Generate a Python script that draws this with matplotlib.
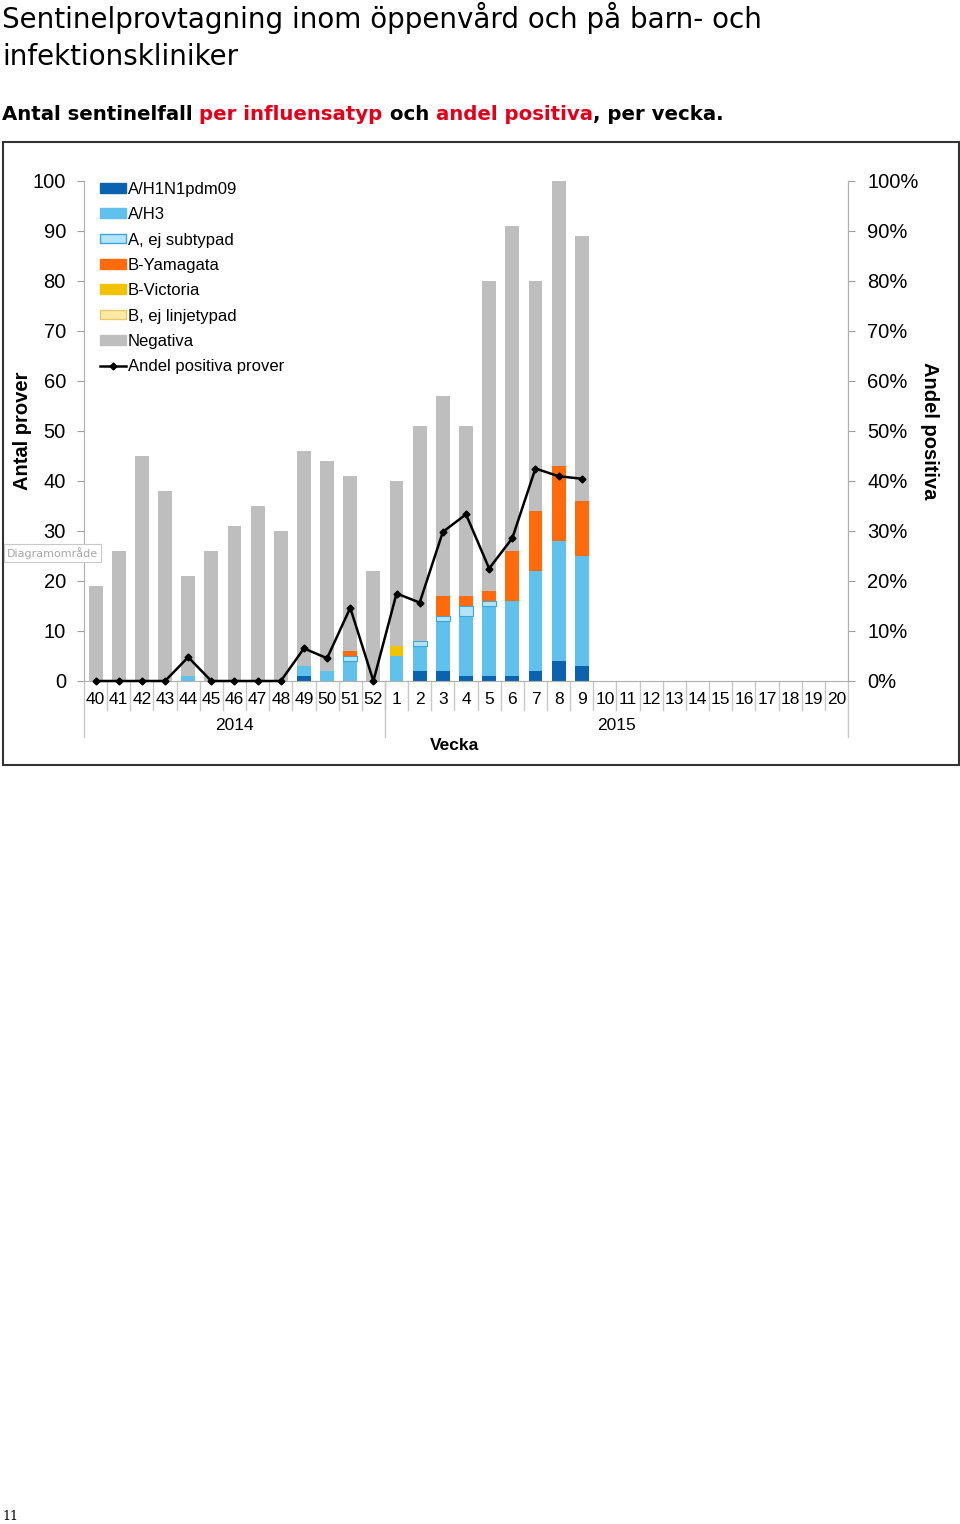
import matplotlib
matplotlib.use("Agg")
import matplotlib.pyplot as plt
from matplotlib.patches import Rectangle, Patch
from matplotlib.lines import Line2D
import matplotlib.transforms as mtrans
import numpy as np

plt.rcParams['font.family'] = ['Liberation Sans', 'DejaVu Sans']

# week labels, 2014 w40 .. 2015 w20
weeks = ['40', '41', '42', '43', '44', '45', '46', '47', '48', '49', '50', '51', '52',
         '1', '2', '3', '4', '5', '6', '7', '8', '9', '10', '11', '12', '13', '14',
         '15', '16', '17', '18', '19', '20']
years = ['2014', '2015']
n_2014 = 13

# counts per week (only weeks 40..9 reported)
h1n1 = [0, 0, 0, 0, 0, 0, 0, 0, 0, 1, 0, 0, 0, 0, 2, 2, 1, 1, 1, 2, 4, 3]
h3 = [0, 0, 0, 0, 1, 0, 0, 0, 0, 2, 2, 4, 0, 5, 5, 10, 12, 14, 15, 20, 24, 22]
a_ej = [0, 0, 0, 0, 0, 0, 0, 0, 0, 0, 0, 1, 0, 0, 1, 1, 2, 1, 0, 0, 0, 0]
b_yam = [0, 0, 0, 0, 0, 0, 0, 0, 0, 0, 0, 1, 0, 0, 0, 4, 2, 2, 10, 12, 15, 11]
b_vic = [0, 0, 0, 0, 0, 0, 0, 0, 0, 0, 0, 0, 0, 2, 0, 0, 0, 0, 0, 0, 0, 0]
b_ej = [0, 0, 0, 0, 0, 0, 0, 0, 0, 0, 0, 0, 0, 0, 0, 0, 0, 0, 0, 0, 0, 0]
totals = [19, 26, 45, 38, 21, 26, 31, 35, 30, 46, 44, 41, 22, 40, 51, 57, 51, 80, 91, 80, 105, 89]

series = [h1n1, h3, a_ej, b_yam, b_vic, b_ej]
labels = ['A/H1N1pdm09', 'A/H3', 'A, ej subtypad', 'B-Yamagata', 'B-Victoria',
          'B, ej linjetypad', 'Negativa']
colors = ['#0B62AE', '#5FC1EC', '#B6E4F7', '#FF6A0D', '#F2C300', '#FDE9A6', '#BEBEBE']
edges = [None, None, '#3AA6DA', None, None, '#E8C96A', None]

positives = np.sum(series, axis=0)
negativa = np.array(totals) - positives
share = positives / np.array(totals) * 100

fig = plt.figure(figsize=(9.6, 15.24), dpi=100)
W, H = 960, 1524

# page title / subtitle
fig.text(2 / W, 1 - 18 / H, 'Sentinelprovtagning inom öppenvård och på barn- och',
         fontsize=20, family='DejaVu Sans', va='center', ha='left')
fig.text(2 / W, 1 - 57 / H, 'infektionskliniker',
         fontsize=20, family='DejaVu Sans', va='center', ha='left')
parts = [('Antal sentinelfall ', 'black'), ('per influensatyp', '#E3001B'), (' och ', 'black'),
         ('andel positiva', '#E3001B'), (', per vecka.', 'black')]
renderer = fig.canvas.get_renderer()
x0 = 2 / W
for txt, col in parts:
    tt = fig.text(x0, 1 - 114 / H, txt, fontsize=14.2, family='DejaVu Sans', weight='bold',
                  va='center', ha='left', color=col)
    bb = tt.get_window_extent(renderer=renderer)
    x0 += bb.width / W

# chart frame
fig.patches.append(Rectangle((3 / W, 1 - 765 / H), 956 / W, 623 / H, transform=fig.transFigure,
                             fill=False, edgecolor='#333333', linewidth=1.5))

ax = fig.add_axes([84 / W, 1 - 681 / H, 764 / W, 500 / H])
x = np.arange(len(totals))
bottom = np.zeros(len(totals))
for vals, col, ec in zip(series + [negativa], colors, edges + [None]):
    lws = [0.8 if (ec and v > 0) else 0 for v in vals]
    ax.bar(x, vals, 0.6, bottom=bottom, color=col,
           edgecolor=ec if ec else col, linewidth=lws, zorder=2)
    bottom += np.array(vals)

ax.set_xlim(-0.5, len(weeks) - 0.5)
ax.set_ylim(0, 100)
ax.set_yticks(range(0, 101, 10))
ax.tick_params(axis='y', length=5, color='#A0A0A0', labelsize=14.5, pad=8)
ax.set_xticks([])
ax.spines['top'].set_visible(False)
for s in ['left', 'right', 'bottom']:
    ax.spines[s].set_color('#B0B0B0')
ax.set_ylabel('Antal prover', fontsize=14.5, weight='bold', va='center')
ax.yaxis.set_label_coords(-0.081, 0.5)

ax2 = ax.twinx()
ax2.set_ylim(0, 100)
ax2.plot(x, share, color='black', lw=1.8, marker='D', ms=3.5, zorder=5, clip_on=False)
ax2.set_yticks(range(0, 101, 10))
ax2.set_yticklabels([f'{v}%' for v in range(0, 101, 10)])
ax2.tick_params(axis='y', length=5, color='#A0A0A0', labelsize=14.5, pad=9)
for s in ['top', 'left', 'bottom']:
    ax2.spines[s].set_visible(False)
ax2.spines['right'].set_color('#B0B0B0')
ax2.set_ylabel('Andel positiva', fontsize=14.5, weight='bold', rotation=-90, va='center')
ax2.yaxis.set_label_coords(1.107, 0.5)

# multi-level category axis
trans = mtrans.blended_transform_factory(ax.transData, ax.transAxes)
px = 1 / 500
for i, wk in enumerate(weeks):
    ax.text(i, -19 * px, wk, transform=trans, ha='center', va='center', fontsize=12.5)
for i in range(1, len(weeks)):
    ax.plot([i - 0.5, i - 0.5], [0, -29 * px], transform=trans, color='#C8C8C8', lw=1, clip_on=False)
for b in [-0.5, n_2014 - 0.5, len(weeks) - 0.5]:
    ax.plot([b, b], [0, -56 * px], transform=trans, color='#C8C8C8', lw=1, clip_on=False)
ax.text((n_2014 - 1) / 2, -45 * px, years[0], transform=trans, ha='center', va='center', fontsize=12.5)
ax.text((n_2014 + len(weeks) - 1) / 2, -45 * px, years[1], transform=trans, ha='center', va='center',
        fontsize=12.5)
ax.text((len(weeks) - 1) / 2 - 0.5, -65 * px, 'Vecka', transform=trans, ha='center', va='center',
        fontsize=12.5, weight='bold')

# legend
handles = [Patch(facecolor=c, edgecolor=e if e else c) for c, e in zip(colors, edges + [None])]
handles.append(Line2D([], [], color='black', lw=1.8, marker='D', ms=3.5))
leg = ax.legend(handles, labels + ['Andel positiva prover'], loc='upper left',
                bbox_to_anchor=(0.016, 1.005), frameon=False, fontsize=12, handlelength=1.6,
                handleheight=0.5, handletextpad=0.1, labelspacing=0.62, borderaxespad=0,
                borderpad=0.2)
leg.set_zorder(10)

# tooltip artifact
fig.text(7 / W, 1 - 553 / H, 'Diagramområde', fontsize=8, color='#A8A8A8', va='center', ha='left',
         family='DejaVu Sans',
         bbox=dict(boxstyle='square,pad=0.25', facecolor='white', edgecolor='#C8C8C8', lw=0.8))

fig.text(2 / W, 1 - 1516 / H, '11', fontsize=9, family='DejaVu Serif', va='center', ha='left')

fig.savefig('out.png', dpi=100)
